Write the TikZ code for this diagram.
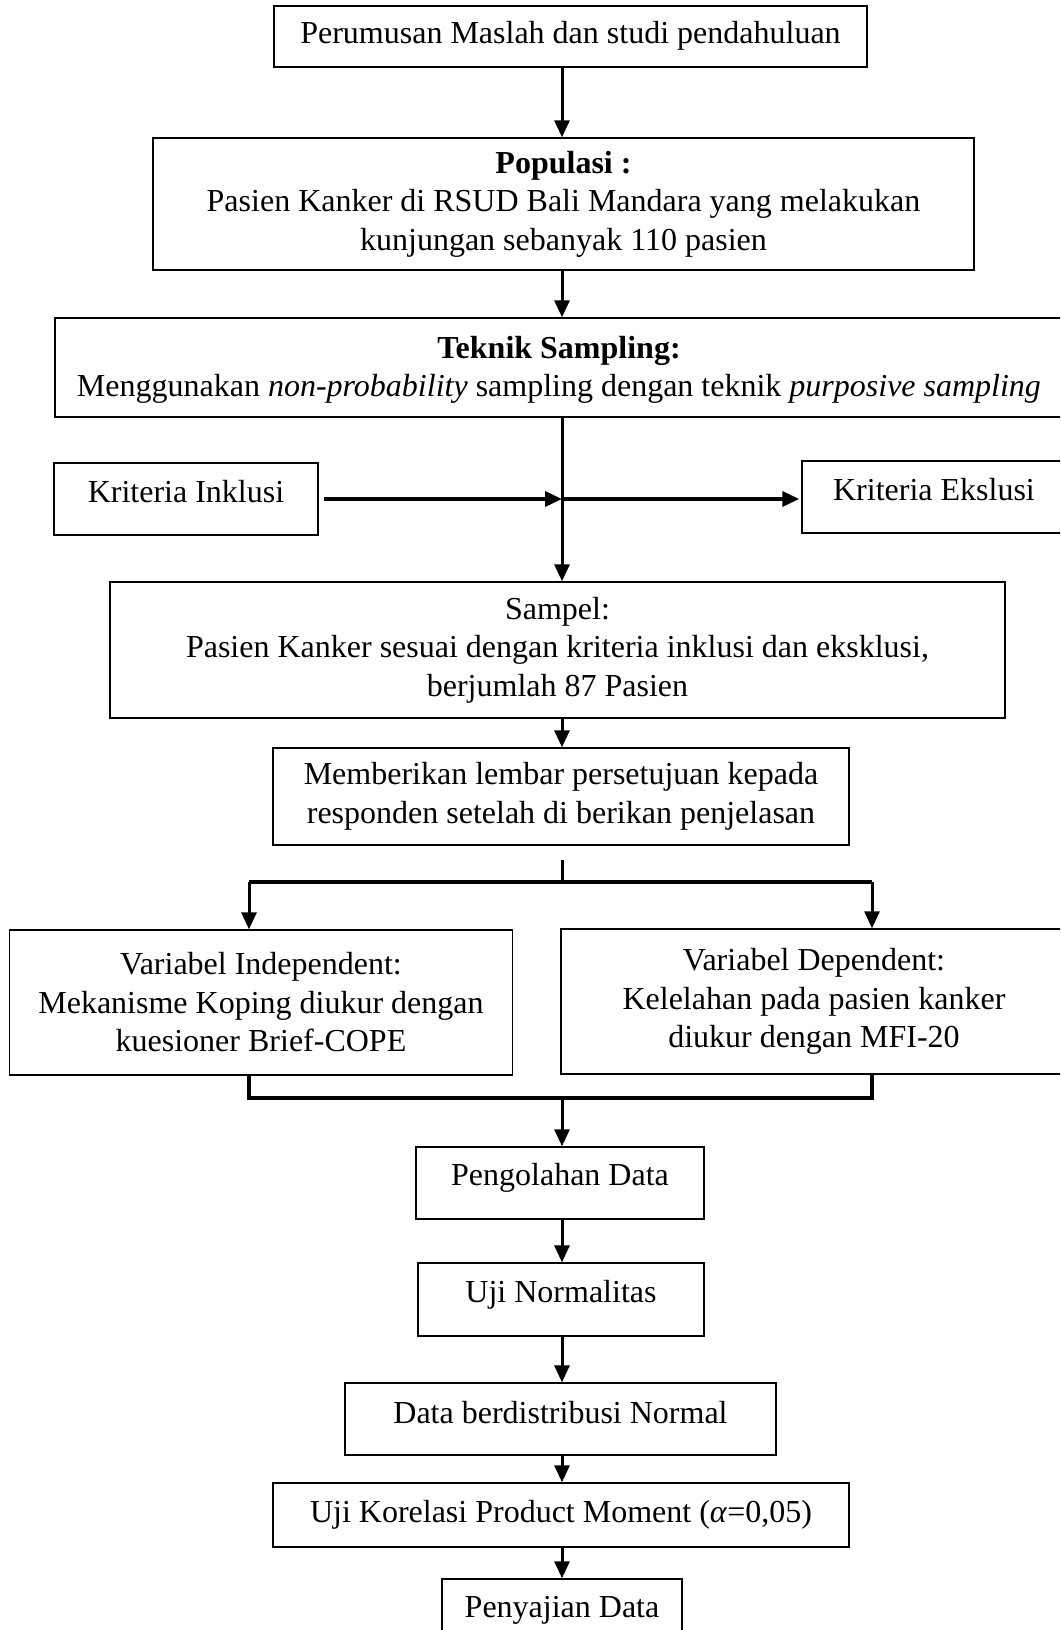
\documentclass[tikz,border=0pt]{standalone}
\usepackage{fontspec}
\setmainfont{Liberation Serif}
\usetikzlibrary{arrows.meta}
\newcommand{\up}[2]{\raisebox{#1}[\height][\depth]{#2}}
\begin{document}
\begin{tikzpicture}[x=1pt,y=-1pt,
  box/.style={draw, line width=1.4pt, align=center, inner sep=0pt,
    font=\fontsize{32}{38.5}\selectfont},
  arr/.style={line width=3pt, -{Triangle[length=17pt,width=15pt]}},
  thick line/.style={line width=4pt},
  plain line/.style={line width=3pt}]
\useasboundingbox (0,0) rectangle (1060,1630);
\clip (0,0) rectangle (1060,1630);
\fill[white] (0,0) rectangle (1060,1630);
\coordinate (sp) at (562,0);

\node[box, minimum width=593pt, minimum height=61pt] (b1) at (570.5,36.5) {\up{1pt}{Perumusan Maslah dan studi pendahuluan}};
\node[box, minimum width=821pt, minimum height=132pt] (b2) at (563.5,204) {\textbf{Populasi :}\\Pasien Kanker di RSUD Bali Mandara yang melakukan\\kunjungan sebanyak 110 pasien};
\node[box, minimum width=1015pt, minimum height=99pt] (b3) at (562.5,367.5) {};
\node[font=\fontsize{32}{38.5}\selectfont, align=center, inner sep=0pt] (b3t) at (559,370) {\textbf{Teknik Sampling:}\\Menggunakan \textit{non-probability} sampling dengan teknik \textit{purposive sampling}};
\node[box, minimum width=264pt, minimum height=72pt] (inc) at (186,499) {\up{7pt}{Kriteria Inklusi}};
\node[box, minimum width=268pt, minimum height=72pt] (exc) at (936,497) {\up{7pt}{\hspace*{-4pt}Kriteria Ekslusi}};
\node[box, minimum width=895pt, minimum height=136pt] (samp) at (557.5,650) {Sampel:\\Pasien Kanker sesuai dengan kriteria inklusi dan eksklusi,\\berjumlah 87 Pasien};
\node[box, minimum width=576pt, minimum height=97pt] (mem) at (561,796.5) {Memberikan lembar persetujuan kepada\\responden setelah di berikan penjelasan};
\node[box, minimum width=503pt, minimum height=145pt] (ind) at (261,1002.5) {Variabel Independent:\\Mekanisme Koping diukur dengan\\kuesioner Brief-COPE};
\node[box, minimum width=509pt, minimum height=145pt] (dep) at (815.5,1001.5) {\hspace*{-3pt}Variabel Dependent:\\\hspace*{-3pt}Kelelahan pada pasien kanker\\\hspace*{-3pt}diukur dengan MFI-20};
\node[box, minimum width=288pt, minimum height=72pt] (olah) at (560,1183) {\up{5pt}{Pengolahan Data}};
\node[box, minimum width=286pt, minimum height=73pt] (norm) at (561,1299.5) {\up{5pt}{Uji Normalitas}};
\node[box, minimum width=431pt, minimum height=72pt] (dist) at (560.5,1419) {\up{6pt}{Data berdistribusi Normal}};
\node[box, minimum width=576pt, minimum height=64pt] (kor) at (561,1515) {Uji Korelasi Product Moment (\textit{α}=0,05)};
\node[box, minimum width=240pt, minimum height=71pt] (saji) at (562,1614.5) {\up{4pt}{Penyajian Data}};

% main spine arrows
\draw[arr] (b1.south -| sp) -- (b2.north -| sp);
\draw[arr] (b2.south -| sp) -- (b3.north -| sp);
\coordinate (cross) at (562,499);
\draw[arr] (b3.south -| sp) -- (samp.north -| sp);
\draw[arr, line width=3.5pt] ([xshift=5pt]inc.east |- cross) -- (cross);
\draw[arr, line width=3.5pt] (cross) -- ([xshift=-2pt]exc.west |- cross);
\draw[arr] (samp.south -| sp) -- (mem.north -| sp);

% split
\coordinate (split) at (562,882);
\coordinate (sl) at (249,882);
\coordinate (sr) at (872,882);
\draw[plain line] ([yshift=-14pt]mem.south -| sp) -- (split);
\draw[thick line] (sl) -- (sr);
\draw[arr] (sl) -- (ind.north -| sl);
\draw[arr] (sr) -- (dep.north -| sr);

% merge
\coordinate (ml) at (249,1098);
\coordinate (mr) at (872,1098);
\coordinate (merge) at (562,1098);
\draw[thick line, line join=miter] (ind.south -| ml) -- (ml) -- (mr) -- (dep.south -| mr);
\draw[arr] (merge) -- (olah.north -| sp);
\draw[arr] (olah.south -| sp) -- (norm.north -| sp);
\draw[arr] (norm.south -| sp) -- (dist.north -| sp);
\draw[arr] (dist.south -| sp) -- (kor.north -| sp);
\draw[arr] (kor.south -| sp) -- (saji.north -| sp);
\end{tikzpicture}
\end{document}
